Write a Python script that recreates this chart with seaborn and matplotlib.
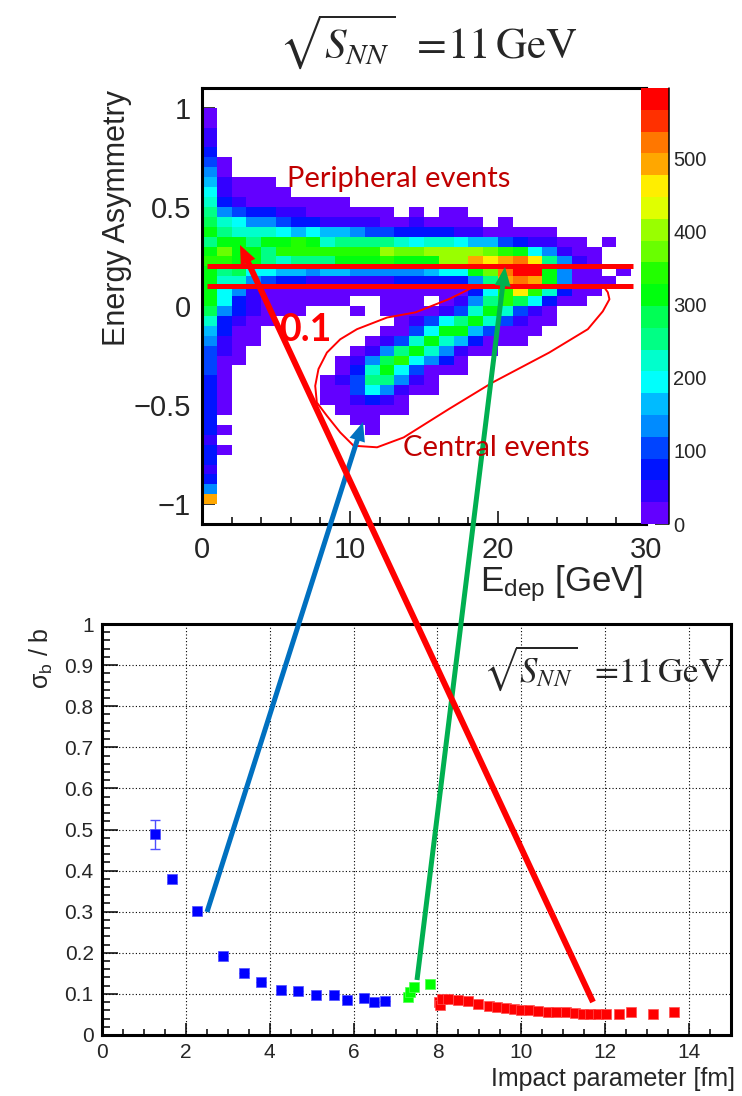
import colorsys
import numpy as np
import pandas as pd
import matplotlib
matplotlib.use("Agg")
import matplotlib.pyplot as plt
from matplotlib.colors import ListedColormap
from matplotlib.lines import Line2D
from matplotlib.patches import Polygon
import seaborn as sns

sns.set_style("ticks")
plt.rcParams["font.family"] = ["Liberation Sans", "DejaVu Sans"]
plt.rcParams["mathtext.fontset"] = "custom"
plt.rcParams["mathtext.rm"] = "Liberation Sans"
plt.rcParams["mathtext.it"] = "Liberation Sans:italic"

# ---------------- top panel: energy asymmetry vs deposited energy ----------------
E_BINS = 30                 # 1 GeV bins from 0 to 30 GeV
A_TOP, A_STEP = 1.1, 0.05   # asymmetry axis runs from +1.1 down to -1.1
N_LEVELS = 20
Z_MAX = 597.0

# colour level of each cell (0..9, a=10 .. j=19, '.' = empty),
# rows from A = +1.0 (top) down to A = -1.0, columns E = 0..29 GeV
hist_rows = [
    "0", "0", "1", "1", "2",
    "30", "40",
    "51000",
    "61000 0",
    "72100 00000",
    "84322 11000 000.0 .00",
    "97644 32211 11001 0000. 0",
    "a8777 65655 43322 22110 0000",
    "8aa8a aba78 88876 77655 32110 0.0",
    "acaa8 bbbbb bbdcc ddddc ba641 00",
    "bbaa8 7888a aabaa addgf ghf84 10",
    "a8966 55455 44444 566ac hjja4 00.0",
    "a7743 22111 11122 22248 ghga4 000",
    "a6410 00000 00000 00026 bfb72 00",
    "a6210 00000 ..000 .0148 b9620 0",
    "94210 00... 0.000 0137a 7310",
    "72100 ..... ...01 368a7 3100",
    "5200. ..... ..003 6aa53 000",
    "4100. ..... .0137 a7520 00",
    "310.. ..... 0148a 74100",
    "300.. ....0 149b6 420",
    "30... ....0 27a63 000",
    "20... ...01 38841 0",
    "20... ...00 36410 0",
    "20... ...00 1210",
    "20... ....0 0000",
    "2.... ..... 00",
    "20... ..... .0",
    "1", "20", "2", "1", "2", "4", "g",
]
LEVEL_CODES = "0123456789abcdefghij"

# ROOT "pretty palette" hues sampled at 20 contour levels (violet -> red)
level_hues = [263.2, 252.0, 235.2, 224.0, 207.2, 196.0, 179.2, 168.0, 151.2, 140.0,
              123.2, 112.0, 95.2, 84.0, 67.2, 56.0, 39.2, 28.0, 11.2, 0.0]
cbar_ticks = [0, 100, 200, 300, 400, 500]

# ---------------- bottom panel: resolution vs impact parameter ----------------
b_central = [1.27, 1.67, 2.27, 2.88, 3.39, 3.80, 4.26, 4.67, 5.10, 5.53, 5.85, 6.25, 6.48, 6.74]
res_central = [0.488, 0.379, 0.302, 0.191, 0.150, 0.130, 0.110, 0.106, 0.098, 0.098,
               0.086, 0.089, 0.080, 0.083]
err_central = [0.035, 0.006, 0, 0, 0, 0, 0, 0, 0, 0, 0, 0, 0, 0]
b_mid = [7.29, 7.34, 7.44, 7.83]
res_mid = [0.092, 0.104, 0.116, 0.123]
b_periph = [8.03, 8.06, 8.12, 8.24, 8.49, 8.73, 8.96, 9.23, 9.43, 9.63, 9.83, 9.99,
            10.19, 10.39, 10.63, 10.83, 11.07, 11.27, 11.47, 11.63, 11.83, 12.03,
            12.34, 12.62, 13.14, 13.65]
res_periph = [0.080, 0.072, 0.088, 0.087, 0.084, 0.082, 0.075, 0.071, 0.068, 0.065,
              0.063, 0.061, 0.060, 0.059, 0.057, 0.056, 0.055, 0.053, 0.052, 0.052,
              0.052, 0.052, 0.052, 0.055, 0.052, 0.055]

# cut lines and hand-drawn selection contour (E [GeV], asymmetry)
cut_levels = [0.2, 0.1]
cut_span = [0.35, 29.1]
contour_E = [18.27, 16.66, 14.43, 12.51, 10.47, 9.34, 8.44, 7.87, 7.65, 7.76, 8.44, 9.34,
             10.24, 11.83, 13.63, 16.68, 19.63, 23.46, 26.07, 27.08, 27.53, 27.42, 27.19]
contour_A = [0.093, 0.034, -0.032, -0.058, -0.117, -0.168, -0.235, -0.318, -0.403, -0.487,
             -0.554, -0.638, -0.705, -0.713, -0.663, -0.520, -0.386, -0.235, -0.117,
             -0.027, 0.034, 0.069, 0.093]

# ---------------- build histogram table ----------------
n_rows = int(round(2 * A_TOP / A_STEP))
grid = np.full((n_rows, E_BINS), np.nan)
pad = int(round((A_TOP - 1.0) / A_STEP))
for k, row in enumerate(hist_rows):
    row = row.replace(" ", "")
    for c, ch in enumerate(row):
        if ch != ".":
            grid[pad + k, c] = (LEVEL_CODES.index(ch) + 0.5) * Z_MAX / N_LEVELS
row_labels = [f"{A_TOP - (i + 0.5) * A_STEP:.3f}" for i in range(n_rows)]
hist_df = pd.DataFrame(grid, index=row_labels, columns=list(range(E_BINS)))

palette = ListedColormap([colorsys.hls_to_rgb(h / 360.0, 0.5, 1.0) for h in level_hues])


def a_to_row(a):
    return (A_TOP - np.asarray(a, dtype=float)) / A_STEP


# ---------------- figure ----------------
W, H = 742, 1096
fig = plt.figure(figsize=(W / 100, H / 100), dpi=100)
fig.patch.set_facecolor("white")


def frac(l, t, r, b):
    return [l / W, 1 - b / H, (r - l) / W, (b - t) / H]


ax_top = fig.add_axes(frac(202, 88, 646, 524))
cax = fig.add_axes(frac(641, 88, 669, 524))
ax_bot = fig.add_axes(frac(102, 624, 731, 1035))

sns.heatmap(hist_df, ax=ax_top, cmap=palette, vmin=0, vmax=Z_MAX, cbar_ax=cax,
            xticklabels=False, yticklabels=False, linewidths=0,
            cbar_kws={"ticks": cbar_ticks})
ax_top.set_xlim(0, E_BINS)
ax_top.set_ylim(n_rows, 0)
for sp in ax_top.spines.values():
    sp.set_visible(True)
    sp.set_linewidth(2.2)
    sp.set_color("black")
ax_top.set_xlabel("")
ax_top.set_ylabel("")
ax_top.set_xticks([0, 10, 20, 30])
ax_top.set_xticklabels(["0", "10", "20", "30"])
ax_top.set_xticks(np.arange(0, 31, 2), minor=True)
y_major = [1, 0.5, 0, -0.5, -1]
ax_top.set_yticks(a_to_row(y_major))
ax_top.set_yticklabels(["1", "0.5", "0", "\u22120.5", "\u22121"])
ax_top.set_yticks(a_to_row(np.round(np.arange(-1.0, 1.01, 0.1), 2)), minor=True)
ax_top.tick_params(which="both", direction="in", top=False, right=False,
                   width=1.1, labelsize=21, color="black")
ax_top.tick_params(which="major", length=9.5)
ax_top.tick_params(which="minor", length=5)
ax_top.tick_params(axis="x", which="major", pad=9)
ax_top.tick_params(axis="y", which="major", pad=8)

# cut lines and selection contour
for a in cut_levels:
    ax_top.plot(cut_span, [a_to_row(a)] * 2, color="#FF0000", lw=3.6,
                solid_capstyle="butt", clip_on=False, zorder=5)
ax_top.plot(contour_E, a_to_row(contour_A), color="#FF0000", lw=1.4, zorder=5)

# colour bar styling
cbar = ax_top.collections[0].colorbar
cbar.outline.set_visible(False)
cax.set_zorder(ax_top.get_zorder() + 1)
cax.yaxis.set_ticks_position("right")
cax.minorticks_off()
cax.tick_params(direction="in", length=10, width=1.1, pad=3, labelsize=14.5, color="black")
cax.add_line(Line2D([1, 1], [0, 1], transform=cax.transAxes, color="black",
                    lw=1.1, clip_on=False))

# ---------------- bottom panel ----------------
ax_bot.errorbar(b_central, res_central, yerr=err_central, fmt="none", ecolor="#4D4DFF",
                elinewidth=1.0, capsize=3.5, capthick=1.0, zorder=3)
sns.scatterplot(x=b_central, y=res_central, ax=ax_bot, marker="s", s=46,
                color="#0000FF", edgecolor="#5050FF", linewidth=0.5, zorder=4, legend=False)
sns.scatterplot(x=b_mid, y=res_mid, ax=ax_bot, marker="s", s=46,
                color="#00FF00", edgecolor="#50FF50", linewidth=0.5, zorder=4, legend=False)
sns.scatterplot(x=b_periph, y=res_periph, ax=ax_bot, marker="s", s=46,
                color="#FF0000", edgecolor="#FF5050", linewidth=0.5, zorder=4, legend=False)
ax_bot.set_xlim(0, 15)
ax_bot.set_ylim(0, 1)
ax_bot.set_xticks(np.arange(0, 15, 2))
ax_bot.set_xticklabels([str(v) for v in range(0, 15, 2)])
ax_bot.set_xticks(np.arange(0, 15.01, 0.5), minor=True)
y_ticks = np.round(np.arange(0, 1.01, 0.1), 1)
ax_bot.set_yticks(y_ticks)
ax_bot.set_yticklabels(["0"] + [f"{v:.1f}" for v in y_ticks[1:-1]] + ["1"])
ax_bot.set_yticks(np.round(np.arange(0, 1.001, 0.02), 2), minor=True)
ax_bot.grid(True, which="major", color="black", linestyle=(0, (1, 2)), linewidth=0.8)
ax_bot.set_axisbelow(True)
for sp in ax_bot.spines.values():
    sp.set_visible(True)
    sp.set_linewidth(2.2)
    sp.set_color("black")
ax_bot.tick_params(which="both", direction="in", top=False, right=False,
                   width=1.1, labelsize=15, color="black")
ax_bot.tick_params(axis="x", which="major", length=8.5, pad=6)
ax_bot.tick_params(axis="x", which="minor", length=4)
ax_bot.tick_params(axis="y", which="major", length=11.5, pad=6)
ax_bot.tick_params(axis="y", which="minor", length=5.5)
ax_bot.set_xlabel("")
ax_bot.set_ylabel("")

# ---------------- axis titles ----------------
fig.text(117 / W, 1 - 90 / H, "Energy Asymmetry", rotation=90, ha="center", va="top",
         fontsize=22)
fig.text(643 / W, 1 - 563 / H, r"E$_{\mathrm{dep}}$ [GeV]", ha="right", va="top",
         fontsize=25)
fig.text(41 / W, 1 - 627 / H, r"σ$_{\mathrm{b}}$ / b", rotation=90, ha="center", va="top",
         fontsize=18)
fig.text(735 / W, 1 - 1086 / H, "Impact parameter [fm]", ha="right", va="baseline",
         fontsize=18)

# ---------------- annotations overlay (pixel coordinates) ----------------
ov = fig.add_axes([0, 0, 1, 1])
ov.set_xlim(0, W)
ov.set_ylim(H, 0)
ov.axis("off")
ov.patch.set_alpha(0)
ov.set_zorder(50)

energy_label = r"$\sqrt{S_{NN}}\;\;=\!11\,\mathrm{GeV}$"
ov.text(428, 42, energy_label, ha="center", va="center", fontsize=31,
        math_fontfamily="stix")
ov.text(604, 668, energy_label, ha="center", va="center", fontsize=25,
        math_fontfamily="stix")

note_font = ["Lato", "DejaVu Sans"]
ov.text(287, 187, "Peripheral events", ha="left", va="baseline", fontsize=21,
        color="#C00000", family=note_font)
ov.text(403, 456, "Central events", ha="left", va="baseline", fontsize=21,
        color="#C00000", family=note_font)
ov.text(279, 341, "0.1", ha="left", va="baseline", fontsize=27, fontweight="bold",
        color="#FF0000", family=note_font)

# arrows linking centrality classes to the impact-parameter ranges
arrow_tails = [(207, 912), (417, 980), (593, 1002)]
arrow_tips = [(363, 422), (505, 267), (240, 245)]
arrow_colors = ["#0070C0", "#00B050", "#FF0000"]
arrow_widths = [5.0, 5.0, 6.0]
for tail, tip, col, wpx in zip(arrow_tails, arrow_tips, arrow_colors, arrow_widths):
    t0 = np.array(tail, float)
    t1 = np.array(tip, float)
    u = (t1 - t0) / np.hypot(*(t1 - t0))
    n = np.array([-u[1], u[0]])
    head_len, head_w = 19.0, 16.0
    base = t1 - head_len * u
    stem_end = base + 2 * u
    ov.plot([t0[0], stem_end[0]], [t0[1], stem_end[1]], color=col, lw=wpx * 0.72,
            solid_capstyle="butt")
    ov.add_patch(Polygon([t1, base + n * head_w / 2, base - n * head_w / 2],
                         closed=True, facecolor=col, edgecolor="none"))

fig.savefig("out.png", dpi=100)
